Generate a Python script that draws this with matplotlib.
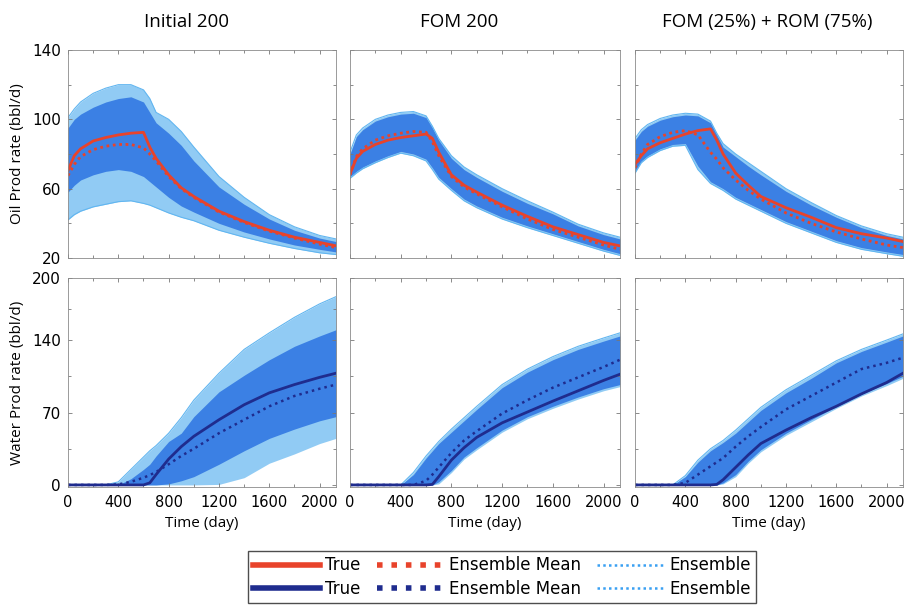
import numpy as np
import matplotlib
matplotlib.use("Agg")
import matplotlib.pyplot as plt
from matplotlib.lines import Line2D
from matplotlib.ticker import MultipleLocator, FixedLocator

# time grid (days) shared by all read-off curves
t = [0, 50, 100, 200, 300, 400, 500, 600, 650, 700, 800, 900, 1000, 1200, 1400, 1600, 1800, 2000, 2130]

titles = ["Initial 200", "FOM 200", "FOM (25%) + ROM (75%)"]

# ---- oil rate (top row) ----
oil_true = [
    [70.5, 79, 83, 87.5, 89.5, 91, 92, 92.5, 84, 77.5, 68, 60.5, 55.5, 47, 41, 36, 32, 29, 27],
    [68.5, 77.5, 81.5, 85.5, 88, 89.5, 90.5, 91.5, 89, 81, 68, 62, 58, 50.5, 44, 38, 33.5, 29, 27],
    [74, 79, 83, 86.5, 89, 91.5, 93.5, 94.5, 88, 80, 69, 62, 55.5, 49, 43.5, 37.5, 34, 31.5, 29.5],
]
oil_mean = [
    [67.5, 74, 78.5, 82.5, 84.5, 85.5, 85.5, 83.5, 80, 76, 67, 60, 55, 46.5, 40.5, 35.5, 31.5, 28, 26],
    [68, 78.5, 83, 88, 90.5, 92, 93, 92.5, 87, 79, 67, 61, 57, 49.5, 42.5, 36.5, 32, 27.5, 25],
    [72, 80, 85.5, 90, 92.5, 93.5, 91, 81, 77, 72, 65, 59, 54, 46, 40, 35, 31, 27.5, 26],
]
# dense part of the ensemble
oil_core_hi = [
    [95, 100, 103, 107, 110, 112, 113, 110, 104, 98, 92, 85, 76, 61, 51, 42.5, 36, 31.5, 29.5],
    [80, 90, 94, 99, 101.5, 103, 103.5, 101, 95, 88, 77.5, 71, 66.5, 58.5, 51.5, 45.5, 38.5, 33.5, 31],
    [88, 93, 96, 99.5, 101.5, 102.5, 102, 98, 91, 84, 78.5, 73, 68, 58.5, 50.5, 43.5, 37.5, 33, 31],
]
oil_core_lo = [
    [58, 62, 65, 68, 70, 71, 70, 67, 64, 61, 55, 50, 46.5, 40, 35, 31, 27.5, 25, 23.5],
    [67, 70, 72.5, 76, 79, 81.5, 80, 77, 72, 66.5, 60, 54, 50, 43.5, 38.5, 34, 29.5, 25, 22.5],
    [70, 76, 79, 83, 85.5, 86, 73, 64, 62, 60, 55, 51.5, 48, 41, 35.5, 30, 26, 23.5, 22],
]
# sparse outer members
oil_fringe_hi = [
    [101, 106, 110, 115, 118, 120, 120, 117, 112, 104, 100, 93, 84, 67, 55, 45, 38, 33, 31],
    [81, 91, 95, 100, 102.5, 104, 104.5, 102, 96, 89, 79, 72.5, 68, 60, 53, 46.5, 39.5, 34.5, 32],
    [89, 94, 97, 100.5, 102.5, 103.5, 103, 99, 92, 86, 80, 75, 70, 60, 52, 44.5, 38.5, 34, 32],
]
oil_fringe_lo = [
    [42, 45, 47, 49.5, 51, 52.5, 53, 51.5, 50.5, 49, 46, 43.5, 41.5, 36, 32, 28.5, 25.5, 23, 22],
    [66, 69, 71.5, 75, 78, 80.5, 79, 76, 71, 65.5, 59, 53, 49, 42.5, 37.5, 33, 28.5, 24, 21.5],
    [69, 75, 78, 82, 84.5, 85, 71, 63, 61, 59, 54, 50.5, 47, 40, 34.5, 29, 25, 22.5, 21],
]

# ---- water rate (bottom row) ----
wat_true = [
    [0, 0, 0, 0, 0, 0, 0, 0, 2, 10, 25, 37, 47, 63, 77.5, 89, 97, 104, 108],
    [0, 0, 0, 0, 0, 0, 0, 0, 0.5, 8, 24, 36, 46, 60, 70.5, 81, 91, 101, 107],
    [0, 0, 0, 0, 0, 0, 0, 0, 0.5, 5, 17, 29, 40, 53, 65, 76, 88, 99, 108],
]
wat_mean = [
    [0, 0, 0, 0, 0, 0.5, 3, 7, 9.5, 12.5, 20, 28, 35, 50, 63, 76, 86, 93, 97],
    [0, 0, 0, 0, 0, 0, 0, 4, 10, 17, 31, 43, 52, 69, 82, 94, 104, 114, 121],
    [0, 0, 0, 0, 0, 2, 10, 18, 22, 26, 37, 47, 56, 73, 86, 99, 112, 118, 123],
]
wat_core_hi = [
    [0, 0, 0, 0, 0, 0, 6, 15, 20, 28, 42, 50, 66, 90, 106, 121, 134, 144, 150],
    [0, 0, 0, 0, 0, 0, 10, 26, 33, 40, 51, 62, 73, 94, 109, 121, 131, 139, 144],
    [0, 0, 0, 0, 0, 8, 22, 33, 37, 41, 50, 61, 72, 89, 103, 118, 129, 138, 144],
]
wat_core_lo = [
    [0, 0, 0, 0, 0, 0, 0, 0, 0, 0, 1, 4, 8, 20, 33, 45, 54, 62, 66],
    [0, 0, 0, 0, 0, 0, 0, 0, 0, 3, 14, 27, 36, 53, 66, 76, 85, 93, 97],
    [0, 0, 0, 0, 0, 0, 0, 0, 0, 2, 10, 23, 34, 50, 63, 76, 88, 98, 105],
]
wat_fringe_hi = [
    [0, 0, 0, 0, 0, 3, 15, 27, 33, 38, 50, 65, 82, 108, 131, 147, 162, 175, 182],
    [0, 0, 0, 0, 0, 0, 12, 28, 35, 42, 54, 65, 76, 97, 112, 124, 134, 142, 147],
    [0, 0, 0, 0, 0, 9, 24, 35, 39, 43, 53, 64, 75, 92, 106, 120, 131, 140, 146],
]
wat_fringe_lo = [
    [0, 0, 0, 0, 0, 0, 0, 0, 0, 0, 0, 0, 0, 0.5, 7, 21, 30, 40, 45],
    [0, 0, 0, 0, 0, 0, 0, 0, 0, 1, 12, 25, 34, 51, 64, 74, 83, 91, 95],
    [0, 0, 0, 0, 0, 0, 0, 0, 0, 1, 8, 21, 32, 48, 61, 74, 86, 96, 103],
]

RED = "#e8432b"
NAVY = "#1f2c8e"
CORE = "#3b80e4"
FRINGE = "#62b6f0"

fig = plt.figure(figsize=(9.14, 6.05), dpi=100)
W, H = 914, 605


def px_axes(x0, y0, x1, y1):
    return fig.add_axes([x0 / W, 1 - y1 / H, (x1 - x0) / W, (y1 - y0) / H])


cols = [(68, 336), (350, 620), (635, 903)]
rows = [(50, 258), (278, 487)]

axes = [[px_axes(c[0], r[0], c[1], r[1]) for c in cols] for r in rows]


def style(ax):
    for s in ax.spines.values():
        s.set_color("#8a8a8a")
        s.set_linewidth(0.6)
    ax.tick_params(which="both", direction="in", top=True, right=True,
                   color="#777777", width=0.6)
    ax.tick_params(which="major", length=3)
    ax.tick_params(which="minor", length=2)
    ax.set_xlim(0, 2130)
    ax.xaxis.set_major_locator(FixedLocator([0, 400, 800, 1200, 1600, 2000]))
    ax.xaxis.set_minor_locator(MultipleLocator(200))


for i in range(3):
    # oil
    ax = axes[0][i]
    style(ax)
    ax.fill_between(t, oil_fringe_lo[i], oil_fringe_hi[i], color=FRINGE, lw=0, alpha=0.7)
    ax.plot(t, oil_fringe_hi[i], color=FRINGE, lw=0.8)
    ax.plot(t, oil_fringe_lo[i], color=FRINGE, lw=0.8)
    ax.fill_between(t, oil_core_lo[i], oil_core_hi[i], color=CORE, lw=0)
    ax.plot(t, oil_true[i], color=RED, lw=2)
    ax.plot(t, oil_mean[i], color=RED, lw=2, ls=(0, (1, 1.3)))
    ax.set_ylim(20, 140)
    ax.yaxis.set_major_locator(FixedLocator([20, 60, 100, 140]))
    ax.yaxis.set_minor_locator(MultipleLocator(20))
    ax.tick_params(labelbottom=False)

    # water
    ax = axes[1][i]
    style(ax)
    ax.fill_between(t, wat_fringe_lo[i], wat_fringe_hi[i], color=FRINGE, lw=0, alpha=0.7)
    ax.plot(t, wat_fringe_hi[i], color=FRINGE, lw=0.8)
    ax.fill_between(t, wat_core_lo[i], wat_core_hi[i], color=CORE, lw=0)
    ax.plot(t, wat_true[i], color=NAVY, lw=2)
    ax.plot(t, wat_mean[i], color=NAVY, lw=1.8, ls=(0, (1, 1.6)))
    ax.set_ylim(-2, 200)
    ax.yaxis.set_major_locator(FixedLocator([0, 70, 140, 200]))
    ax.yaxis.set_minor_locator(FixedLocator([35, 105, 170]))
    ax.tick_params(axis="x", labelsize=10.5, pad=6)
    ax.set_xlabel("Time (day)", fontsize=11, family="Open Sans", labelpad=4)

    if i > 0:
        axes[0][i].tick_params(labelleft=False)
        axes[1][i].tick_params(labelleft=False)

for r in range(2):
    axes[r][0].tick_params(axis="y", labelsize=11, pad=5)

axes[0][0].set_ylabel("Oil Prod rate (bbl/d)", fontsize=11, family="Open Sans", labelpad=5)
axes[1][0].set_ylabel("Water Prod rate (bbl/d)", fontsize=11, family="Open Sans", labelpad=5)

title_x = [186, 459, 767]
for x, s in zip(title_x, titles):
    fig.text(x / W, 1 - 22 / H, s, ha="center", va="center", fontsize=13.5, family="Open Sans")

handles = [
    Line2D([], [], color=RED, lw=4),
    Line2D([], [], color=NAVY, lw=4),
    Line2D([], [], color=RED, lw=4, ls=(0, (1, 1.6))),
    Line2D([], [], color=NAVY, lw=4, ls=(0, (1, 1.6))),
    Line2D([], [], color="#3aa0f2", lw=1.8, ls=(0, (1, 1.3))),
    Line2D([], [], color="#3aa0f2", lw=1.8, ls=(0, (1, 1.3))),
]
labels = ["True", "True", "Ensemble Mean", "Ensemble Mean", "Ensemble", "Ensemble"]
leg = fig.legend(handles, labels, ncol=3, loc="center", bbox_to_anchor=(502 / W, 1 - 577 / H),
                 fontsize=12, handlelength=4.0, handletextpad=0.3, columnspacing=1.0,
                 labelspacing=0.3, borderpad=0.35, fancybox=False, frameon=True)
leg.get_frame().set_edgecolor("#222222")
leg.get_frame().set_linewidth(1.0)

fig.savefig("out.png", dpi=100)
